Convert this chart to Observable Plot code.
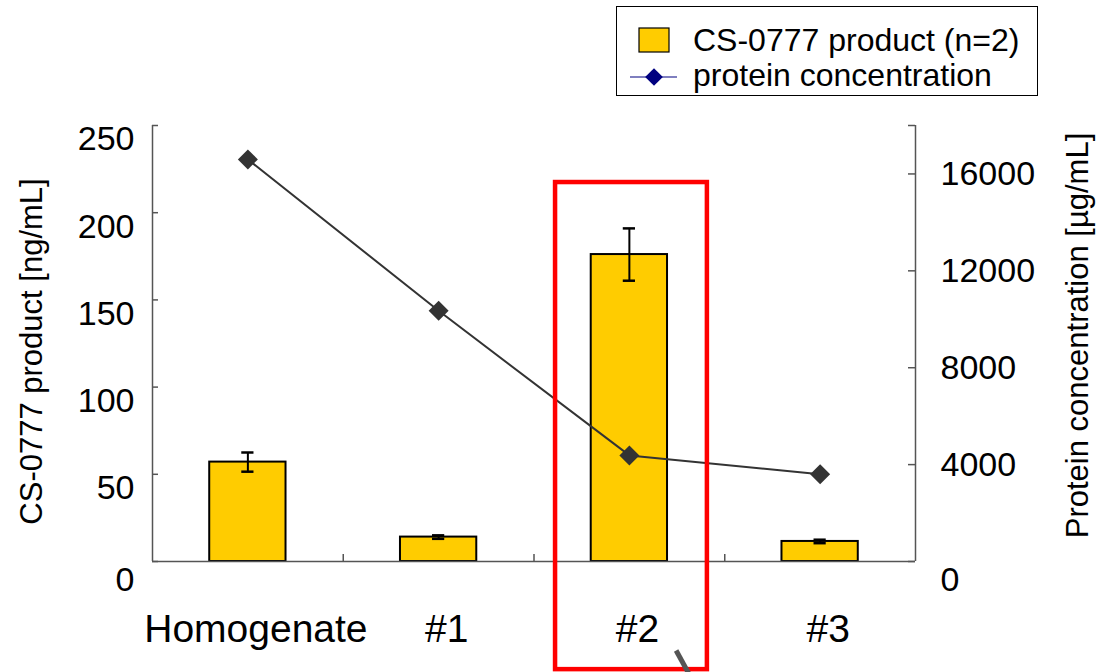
<!DOCTYPE html>
<html>
<head>
<meta charset="utf-8">
<script src="https://cdn.jsdelivr.net/npm/d3@7"></script>
<script src="https://cdn.jsdelivr.net/npm/@observablehq/plot@0.6"></script>
<style>
  body { margin: 0; background: #fff; font-family: "Liberation Sans", Arial, sans-serif; }
  #wrap { position: relative; width: 1097px; height: 672px; overflow: hidden; }
  #legend { position: absolute; left: 616px; top: 6px; width: 422px; height: 90px; border: 1.5px solid #000; background: #fff; box-sizing: border-box; }
</style>
</head>
<body>
<div id="wrap">
  <div id="chart"></div>
  <div id="legend"></div>
</div>
<script>
// ---- data ----
const categories = ["Homogenate", "#1", "#2", "#3"];
const productValues = [57, 14, 176, 11.5];       // CS-0777 product [ng/mL]
const productErrors = [5.5, 1, 15, 1];           // error bar half-lengths
const proteinValues = [16600, 10350, 4380, 3600]; // protein concentration [µg/mL]
const leftTicks = [50, 100, 150, 200, 250];
const rightTicks = [4000, 8000, 12000, 16000];
const leftMax = 250;
const rightMax = 18000;
const highlight = {x1: 1.613, x2: 2.409, y1: -62, y2: 217.3}; // red box around "#2"
const pointer = {x1: 2.245, y1: -51, x2: 2.34, y2: -70};

const k = leftMax / rightMax;
const rows = categories.map((c, i) => ({
  i, c, v: productValues[i], e: productErrors[i], p: proteinValues[i] * k
}));

const font = "Liberation Sans, Arial, sans-serif";
const axisColor = "#555";

const chart = Plot.plot({
  width: 1097,
  height: 672,
  marginLeft: 152,
  marginRight: 182,
  marginTop: 125,
  marginBottom: 111,
  style: {fontFamily: font, background: "white", color: "#000"},
  x: {type: "linear", domain: [-0.5, 3.5], axis: null},
  y: {domain: [0, leftMax], axis: null},
  marks: [
    // bars
    Plot.rectY(rows, {x1: d => d.i - 0.2, x2: d => d.i + 0.2, y: "v", fill: "#FFCC00", stroke: "#000", strokeWidth: 2}),
    // error bars
    Plot.ruleX(rows, {x: "i", y1: d => d.v - d.e, y2: d => d.v + d.e, stroke: "#000", strokeWidth: 2}),
    Plot.ruleY(rows, {y: d => d.v + d.e, x1: d => d.i - 0.032, x2: d => d.i + 0.032, stroke: "#000", strokeWidth: 2.5}),
    Plot.ruleY(rows, {y: d => d.v - d.e, x1: d => d.i - 0.032, x2: d => d.i + 0.032, stroke: "#000", strokeWidth: 2.5}),
    // axis lines
    Plot.ruleX([-0.5, 3.5], {y1: 0, y2: leftMax, stroke: axisColor, strokeWidth: 1.5}),
    Plot.ruleY([0], {stroke: axisColor, strokeWidth: 1.5}),
    // inward ticks
    Plot.tickY([0, ...leftTicks], {y: d => d, insetRight: 757, stroke: axisColor, strokeWidth: 1.5}),
    Plot.tickY([0, ...rightTicks, rightMax], {y: d => d * k, insetLeft: 756, stroke: axisColor, strokeWidth: 1.5}),
    Plot.tickX([0.5, 1.5, 2.5], {x: d => d, insetTop: 429, stroke: axisColor, strokeWidth: 1.5}),
    // left tick labels
    Plot.text(leftTicks, {y: d => d, text: d => String(d), frameAnchor: "left", dx: -18, dy: 14, textAnchor: "end", fontSize: 34, fill: "#000"}),
    Plot.text([0], {y: d => d, text: d => String(d), frameAnchor: "left", dx: -18, dy: 19, textAnchor: "end", fontSize: 34, fill: "#000"}),
    // right tick labels
    Plot.text(rightTicks, {y: d => d * k, text: d => String(d), frameAnchor: "right", dx: 25, textAnchor: "start", fontSize: 34, fill: "#000"}),
    Plot.text([0], {y: d => d, text: d => String(d), frameAnchor: "right", dx: 25, dy: 19, textAnchor: "start", fontSize: 34, fill: "#000"}),
    // category labels
    Plot.text(rows, {x: "i", y: 0, text: "c", dy: 68, dx: 8, fontSize: 39, fill: "#000"}),
    // axis titles
    Plot.text(["CS-0777 product [ng/mL]"], {frameAnchor: "left", textAnchor: "middle", dx: -120, dy: 8, rotate: -90, fontSize: 31, fill: "#000"}),
    Plot.text(["Protein concentration [µg/mL]"], {frameAnchor: "right", textAnchor: "middle", dx: 163, dy: -8, rotate: -90, fontSize: 31, fill: "#000"}),
    // protein concentration line
    Plot.line(rows, {x: "i", y: "p", stroke: "#333", strokeWidth: 2}),
    Plot.dot(rows, {x: "i", y: "p", symbol: "diamond2", r: 9, fill: "#333", stroke: "none"}),
    // highlight annotation
    Plot.rect([highlight], {x1: "x1", x2: "x2", y1: "y1", y2: "y2", fill: "none", stroke: "#FF0000", strokeWidth: 4.5}),
    Plot.link([pointer], {x1: "x1", y1: "y1", x2: "x2", y2: "y2", stroke: "#555", strokeWidth: 5})
  ]
});
document.getElementById("chart").append(chart);

// legend
const legendItems = [
  {label: "CS-0777 product (n=2)", kind: "bar"},
  {label: "protein concentration", kind: "line"}
];
const lg = d3.select("#legend").append("svg").attr("width", 420).attr("height", 88)
  .style("font-family", font);
legendItems.forEach((it, j) => {
  const cy = 33 + j * 35;
  if (it.kind === "bar") {
    lg.append("rect").attr("x", 22).attr("y", cy - 12).attr("width", 30).attr("height", 24)
      .attr("fill", "#FFCC00").attr("stroke", "#000").attr("stroke-width", 1.2);
  } else {
    lg.append("line").attr("x1", 13).attr("x2", 60).attr("y1", cy + 2).attr("y2", cy + 2)
      .attr("stroke", "#000080").attr("stroke-width", 1.2);
    lg.append("path").attr("d", d3.symbol(d3.symbolDiamond2, 200)()).attr("transform", `translate(37,${cy + 2})`)
      .attr("fill", "#000080");
  }
  lg.append("text").attr("x", 76).attr("y", cy + 11).attr("font-size", 32).attr("fill", "#000").text(it.label);
});
</script>
</body>
</html>
